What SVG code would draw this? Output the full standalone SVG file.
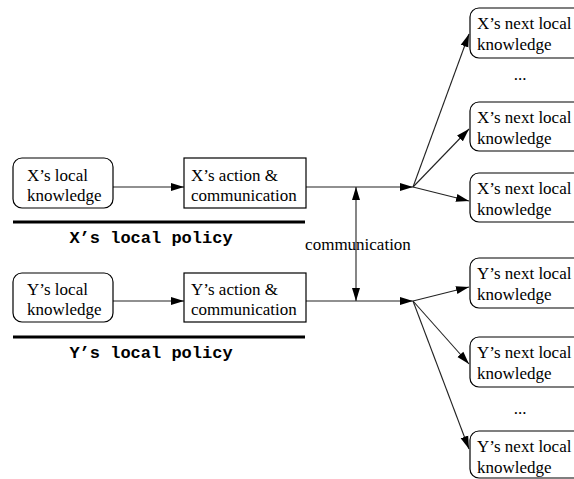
<svg xmlns="http://www.w3.org/2000/svg" width="574" height="479" viewBox="0 0 574 479">
<style>
.box{fill:#fff;stroke:#000;stroke-width:1.2}
.t{font-family:'Liberation Serif','Times New Roman','DejaVu Serif',serif;font-size:17px;fill:#000}
.m{font-family:'Liberation Mono','Courier New',monospace;font-size:17px;font-weight:bold;fill:#000}
.c{stroke:#222;stroke-width:1.1;fill:none}
.bar{stroke:#000;stroke-width:3}
</style>
<defs>
<marker id="ah" markerUnits="userSpaceOnUse" markerWidth="14" markerHeight="10" refX="13" refY="4" orient="auto-start-reverse" viewBox="0 0 14 8">
<path d="M0,0 L13,4 L0,8 Z" fill="#000"/>
</marker>
</defs>
<rect width="574" height="479" fill="#fff"/>
<g id="connectors">
<line class="c" x1="113" y1="187" x2="184" y2="187" marker-end="url(#ah)"/>
<line class="c" x1="113" y1="301" x2="184" y2="301" marker-end="url(#ah)"/>
<line class="c" x1="306" y1="187" x2="413" y2="187" marker-end="url(#ah)"/>
<line class="c" x1="306" y1="301" x2="413" y2="301" marker-end="url(#ah)"/>
<line class="c" x1="356" y1="187" x2="356" y2="301" marker-start="url(#ah)" marker-end="url(#ah)"/>
<line class="c" x1="413" y1="187" x2="469" y2="34" marker-end="url(#ah)"/>
<line class="c" x1="413" y1="187" x2="469" y2="129" marker-end="url(#ah)"/>
<line class="c" x1="413" y1="187" x2="469" y2="201" marker-end="url(#ah)"/>
<line class="c" x1="413" y1="301" x2="469" y2="287" marker-end="url(#ah)"/>
<line class="c" x1="413" y1="301" x2="469" y2="364" marker-end="url(#ah)"/>
<line class="c" x1="413" y1="301" x2="469" y2="449" marker-end="url(#ah)"/>
</g>
<g id="x-local">
<rect class="box" x="13" y="158" width="100" height="50" rx="9"/>
<text class="t" x="27" y="181">X’s local</text>
<text class="t" x="27" y="201">knowledge</text>
</g>
<g id="x-action">
<rect class="box" x="184" y="158" width="122" height="50"/>
<text class="t" x="191" y="181">X’s action &amp;</text>
<text class="t" x="191" y="201">communication</text>
</g>
<g id="x-policy">
<line class="bar" x1="13" y1="222" x2="305" y2="222"/>
<text class="m" x="151" y="243" text-anchor="middle">X’s local policy</text>
</g>
<g id="y-local">
<rect class="box" x="13" y="273" width="100" height="49" rx="9"/>
<text class="t" x="27" y="295">Y’s local</text>
<text class="t" x="27" y="315">knowledge</text>
</g>
<g id="y-action">
<rect class="box" x="184" y="273" width="122" height="49"/>
<text class="t" x="191" y="295">Y’s action &amp;</text>
<text class="t" x="191" y="315">communication</text>
</g>
<g id="y-policy">
<line class="bar" x1="13" y1="337" x2="305" y2="337"/>
<text class="m" x="151" y="358" text-anchor="middle">Y’s local policy</text>
</g>
<g id="comm-label">
<text class="t" x="358" y="250" text-anchor="middle">communication</text>
</g>
<g id="x-next-1">
<rect class="box" x="470" y="8" width="115" height="50" rx="9"/>
<text class="t" x="477" y="29">X’s next local</text>
<text class="t" x="477" y="50">knowledge</text>
</g>
<text class="t" x="520" y="80" text-anchor="middle">...</text>
<g id="x-next-2">
<rect class="box" x="470" y="102" width="115" height="49" rx="9"/>
<text class="t" x="477" y="123">X’s next local</text>
<text class="t" x="477" y="144">knowledge</text>
</g>
<g id="x-next-3">
<rect class="box" x="470" y="173" width="115" height="49" rx="9"/>
<text class="t" x="477" y="194">X’s next local</text>
<text class="t" x="477" y="215">knowledge</text>
</g>
<g id="y-next-1">
<rect class="box" x="470" y="258" width="115" height="50" rx="9"/>
<text class="t" x="477" y="279">Y’s next local</text>
<text class="t" x="477" y="300">knowledge</text>
</g>
<g id="y-next-2">
<rect class="box" x="470" y="337" width="115" height="50" rx="9"/>
<text class="t" x="477" y="358">Y’s next local</text>
<text class="t" x="477" y="379">knowledge</text>
</g>
<text class="t" x="520" y="414" text-anchor="middle">...</text>
<g id="y-next-3">
<rect class="box" x="470" y="431" width="115" height="47" rx="9"/>
<text class="t" x="477" y="452">Y’s next local</text>
<text class="t" x="477" y="473">knowledge</text>
</g>
</svg>
